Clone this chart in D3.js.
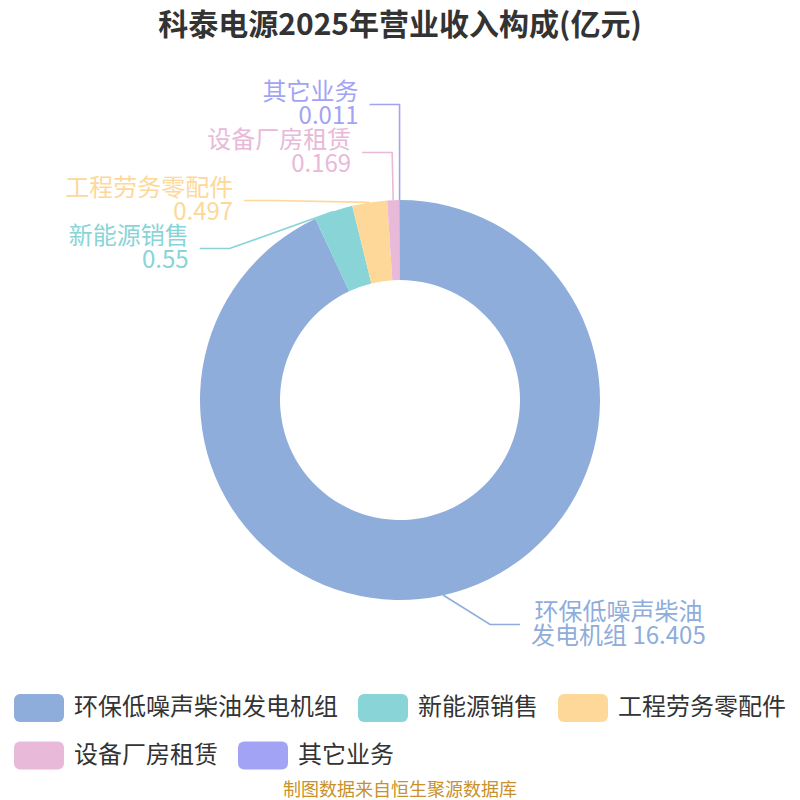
<!DOCTYPE html>
<html><head><meta charset="utf-8">
<script src="https://cdn.jsdelivr.net/npm/d3@7"></script>
<style>body{margin:0;background:#fff}</style>
</head><body><svg id="c" width="800" height="800"></svg>
<script>
const categories = ["环保低噪声柴油发电机组", "新能源销售", "工程劳务零配件", "设备厂房租赁", "其它业务"];
const values = [16.405, 0.55, 0.497, 0.169, 0.011];
const colors = ["#8eaddb", "#88d4d7", "#fed898", "#e8b9d9", "#a3a3f5"];
const titleText = "科泰电源2025年营业收入构成(亿元)";
const sourceText = "制图数据来自恒生聚源数据库";

const W = 800, H = 800, cx = 400, cy = 400, R = 200, R0 = 120;
const FONT = "'Noto Sans CJK SC','Noto Sans',sans-serif";
const lineLen = 30, lineLen2 = 30, labelDist = 11, labelH = 48, labelFont = 24, wrapWidth = 190;

const svg = d3.select("#c").attr("font-family", FONT);
const pieData = d3.pie().sort(null).value(d => d)(values);
const arc = d3.arc().innerRadius(R0).outerRadius(R);

// measuring helper
const meas = svg.append("text").attr("font-size", labelFont).attr("visibility", "hidden");
function tw(s, size) { meas.attr("font-size", size).text(s); return meas.node().getComputedTextLength(); }
function wrap(s, w) {
  const lines = []; let cur = "";
  for (const ch of s) {
    if (tw(cur + ch, labelFont) > w && cur.length) { lines.push(cur.trim()); cur = ch; }
    else cur += ch;
  }
  if (cur.trim().length) lines.push(cur.trim());
  return lines;
}

// label layout (outside labels with guide lines, overlap avoidance)
const items = pieData.map((p, i) => {
  const mid = (p.startAngle + p.endAngle) / 2;
  const nx = Math.sin(mid), ny = -Math.cos(mid);
  const dir = nx < 0 ? -1 : 1;
  const x1 = cx + R * nx, y1 = cy + R * ny;
  const x2 = cx + (R + lineLen) * nx, y2 = cy + (R + lineLen) * ny;
  const x3 = x2 + dir * lineLen2;
  return { i, x1, y1, dir, x: x3 + dir * labelDist, y: y2, height: labelH };
});

function changeX(list, isDown, dir) {
  let last = isDown ? Infinity : 0;
  list.forEach(it => {
    const dy = Math.abs(it.y - cy);
    let dx = dy < R + lineLen ? Math.sqrt((R + lineLen + lineLen2) ** 2 - dy * dy) : Math.abs(it.x - cx);
    if (isDown && dx >= last) dx = last - 10;
    if (!isDown && dx <= last) dx = last + 10;
    it.x = cx + dx * dir; last = dx;
  });
}
function adjustSide(list, dir) {
  list.sort((a, b) => a.y - b.y);
  function shiftUp(end, delta) {
    for (let j = end; j >= 0; j--) {
      if (list[j].y - delta < 0) break;
      list[j].y -= delta;
      if (j > 0 && list[j].y > list[j - 1].y + list[j - 1].height) break;
    }
  }
  function shiftDown(start, end, delta) {
    for (let j = start; j < end; j++) {
      if (list[j].y + delta > H) break;
      list[j].y += delta;
      if (j > start && j + 1 < end && list[j + 1].y > list[j].y + list[j].height) { shiftUp(j, delta / 2); return; }
    }
    shiftUp(end - 1, delta / 2);
  }
  let lastY = 0;
  for (let i = 0; i < list.length; i++) {
    const d = list[i].y - lastY;
    if (d < 0) shiftDown(i, list.length, -d);
    lastY = list[i].y + list[i].height;
  }
  if (H - lastY < 0) shiftUp(list.length - 1, lastY - H);
  changeX(list.filter(d => d.y < cy), false, dir);
  changeX(list.filter(d => d.y >= cy), true, dir);
}
adjustSide(items.filter(d => d.dir < 0), -1);
adjustSide(items.filter(d => d.dir > 0), 1);

// guide lines (under slices)
svg.append("g").selectAll("polyline").data(items).join("polyline")
  .attr("fill", "none").attr("stroke-width", 1.6)
  .attr("stroke", d => colors[d.i])
  .attr("points", d => {
    const end = d.x - d.dir * labelDist, elbow = end - d.dir * lineLen2;
    return [[d.x1, d.y1], [elbow, d.y], [end, d.y]].map(p => p.join(",")).join(" ");
  });

// slices
svg.append("g").attr("transform", `translate(${cx},${cy})`)
  .selectAll("path").data(pieData).join("path")
  .attr("d", arc).attr("fill", (d, i) => colors[i]);

// labels
const lg = svg.append("g");
items.forEach(it => {
  const name = categories[it.i], val = String(values[it.i]);
  let lines, anchor, tx;
  if (it.dir < 0) { lines = [name, val]; anchor = "end"; tx = it.x; }
  else {
    lines = wrap(name + " " + val, wrapWidth);
    const bw = d3.max(lines, l => tw(l, labelFont));
    anchor = "middle"; tx = it.x + bw / 2;
  }
  const t = lg.append("text").attr("font-size", labelFont).attr("fill", colors[it.i]).attr("text-anchor", anchor);
  lines.forEach((l, k) => t.append("tspan").attr("x", tx).attr("y", it.y - 5 + k * 24).text(l));
});

// title
svg.append("text").attr("x", 400).attr("y", 35).attr("text-anchor", "middle")
  .attr("font-size", 30).attr("font-weight", "bold").attr("fill", "#333").text(titleText);

// legend
const legItems = categories.map((c, i) => ({ c, i, w: 60 + tw(c, 24) }));
const rows = [[]]; let rw = 0; const maxW = 780, gap = 20;
legItems.forEach(it => {
  const row = rows[rows.length - 1];
  const add = (row.length ? gap : 0) + it.w;
  if (row.length && rw + add > maxW) { rows.push([it]); rw = it.w; }
  else { row.push(it); rw += add; }
});
const rowW = rows.map(r => d3.sum(r, d => d.w) + gap * (r.length - 1));
const boxLeft = (W - d3.max(rowW)) / 2;
const leg = svg.append("g");
rows.forEach((r, ri) => {
  let x = boxLeft; const yc = 708 + ri * 47.5;
  r.forEach(it => {
    leg.append("rect").attr("x", x).attr("y", yc - 14).attr("width", 50).attr("height", 28)
      .attr("rx", 6).attr("fill", colors[it.i]);
    leg.append("text").attr("x", x + 60).attr("y", yc + 7).attr("font-size", 24).attr("fill", "#333").text(it.c);
    x += it.w + gap;
  });
});

// source
svg.append("text").attr("x", 400).attr("y", 796).attr("text-anchor", "middle")
  .attr("font-size", 18).attr("fill", "#c8912c").text(sourceText);
meas.remove();
</script></body></html>
